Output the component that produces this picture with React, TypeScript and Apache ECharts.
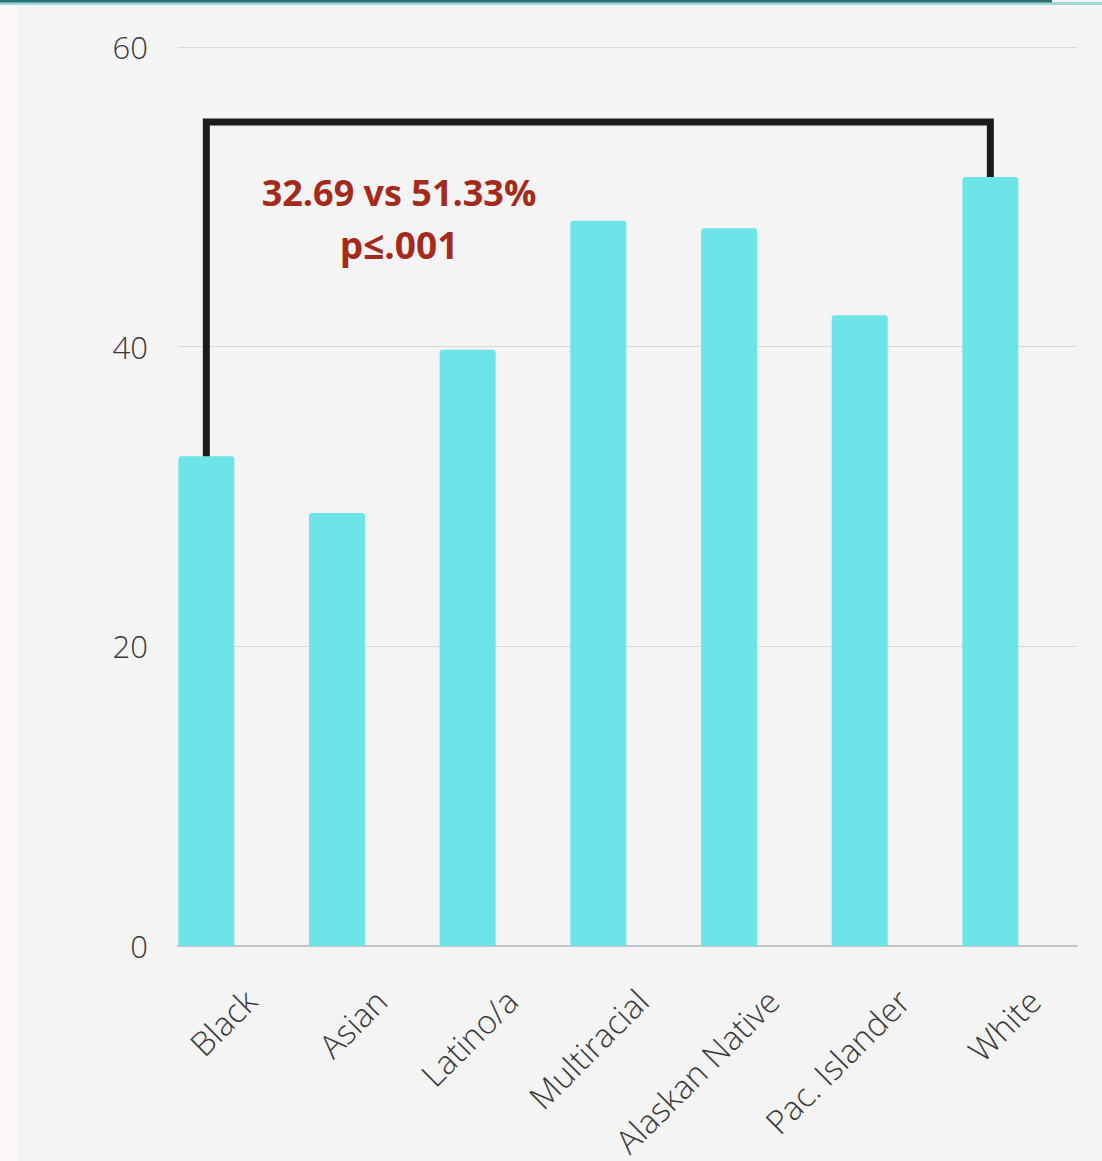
import React, { useEffect, useRef } from "react";
import * as echarts from "echarts";

const categories = ["Black", "Asian", "Latino/a", "Multiracial", "Alaskan Native", "Pac. Islander", "White"];
const values = [32.69, 28.9, 39.8, 48.4, 47.9, 42.1, 51.33];
const yTicks = [0, 20, 40, 60];
const bracketY = 55;
const annotationLines = ["32.69 vs 51.33%", "p≤.001"];

export default function App() {
  const ref = useRef<HTMLDivElement>(null);
  useEffect(() => {
    document.body.style.margin = "0";
    const chart = echarts.init(ref.current!, null, { renderer: "svg" });
    const top = 47;
    const bottom = 1161 - 946;
    const bandLeft = 141;
    const bandWidth = 914.7;
    const labelShift = 44;
    const bracketData = [
      [0, values[0]],
      [0, bracketY],
      [values.length - 1, bracketY],
      [values.length - 1, values[values.length - 1]],
    ];
    chart.setOption({
      animation: false,
      backgroundColor: "#f4f4f4",
      grid: [
        { left: 178, right: 25, top, bottom },
        { left: bandLeft, width: bandWidth, top, bottom },
        { left: bandLeft + labelShift, width: bandWidth, top, bottom },
      ],
      xAxis: [
        {
          gridIndex: 0, type: "value", min: 0, max: 1,
          axisLine: { show: true, lineStyle: { color: "#c4c4c4", width: 2 } },
          axisTick: { show: false }, axisLabel: { show: false }, splitLine: { show: false },
        },
        {
          gridIndex: 1, type: "category", data: categories,
          axisLine: { show: false }, axisTick: { show: false }, axisLabel: { show: false },
        },
        {
          gridIndex: 2, type: "category", data: categories,
          axisLine: { show: false }, axisTick: { show: false },
          axisLabel: {
            interval: 0, rotate: 45, margin: 50, fontSize: 33, lineHeight: 34,
            fontFamily: "Open Sans", fontWeight: 300, color: "#3a3a3a",
          },
        },
      ],
      yAxis: [
        {
          gridIndex: 0, type: "value", min: yTicks[0], max: yTicks[yTicks.length - 1], interval: 20,
          axisLine: { show: false }, axisTick: { show: false },
          axisLabel: { fontSize: 31, fontFamily: "Open Sans", fontWeight: 300, color: "#3a3a3a", margin: 30 },
          splitLine: { lineStyle: { color: "#d8d8d8", width: 1 } },
        },
        { gridIndex: 1, type: "value", min: 0, max: 60, show: false },
        { gridIndex: 2, type: "value", min: 0, max: 60, show: false },
      ],
      graphic: [
        { type: "rect", left: 0, top: 0, shape: { width: 18, height: 1161 }, style: { fill: "#fdf8f7" }, z: -1 },
        { type: "rect", left: 0, top: 2, shape: { width: 1102, height: 3 }, style: { fill: "#9dd7db" }, z: 10 },
        { type: "rect", left: 0, top: 0, shape: { width: 1052, height: 2.5 }, style: { fill: "#2e736f" }, z: 11 },
        {
          type: "text", x: 399, y: 192, z: 20,
          style: {
            text: annotationLines[0], fill: "#a52a1b", font: "bold 36px 'Open Sans'",
            textAlign: "center", textVerticalAlign: "middle",
          },
        },
        {
          type: "text", x: 399, y: 244, z: 20,
          style: {
            text: annotationLines[1], fill: "#a52a1b", font: "bold 37px 'Open Sans'",
            textAlign: "center", textVerticalAlign: "middle",
          },
        },
      ],
      series: [
        {
          type: "bar", xAxisIndex: 1, yAxisIndex: 1, data: values, barWidth: 56,
          itemStyle: { color: "#6de4e7", borderRadius: [3, 3, 0, 0] }, z: 3,
        },
        {
          type: "line", xAxisIndex: 1, yAxisIndex: 1, data: bracketData, symbol: "none",
          lineStyle: { color: "#1c1c1c", width: 7, join: "miter", cap: "butt" }, z: 4,
        },
        { type: "bar", xAxisIndex: 2, yAxisIndex: 2, data: categories.map(() => "-") },
      ],
    });
    return () => chart.dispose();
  }, []);
  return <div ref={ref} style={{ width: 1102, height: 1161 }} />;
}
